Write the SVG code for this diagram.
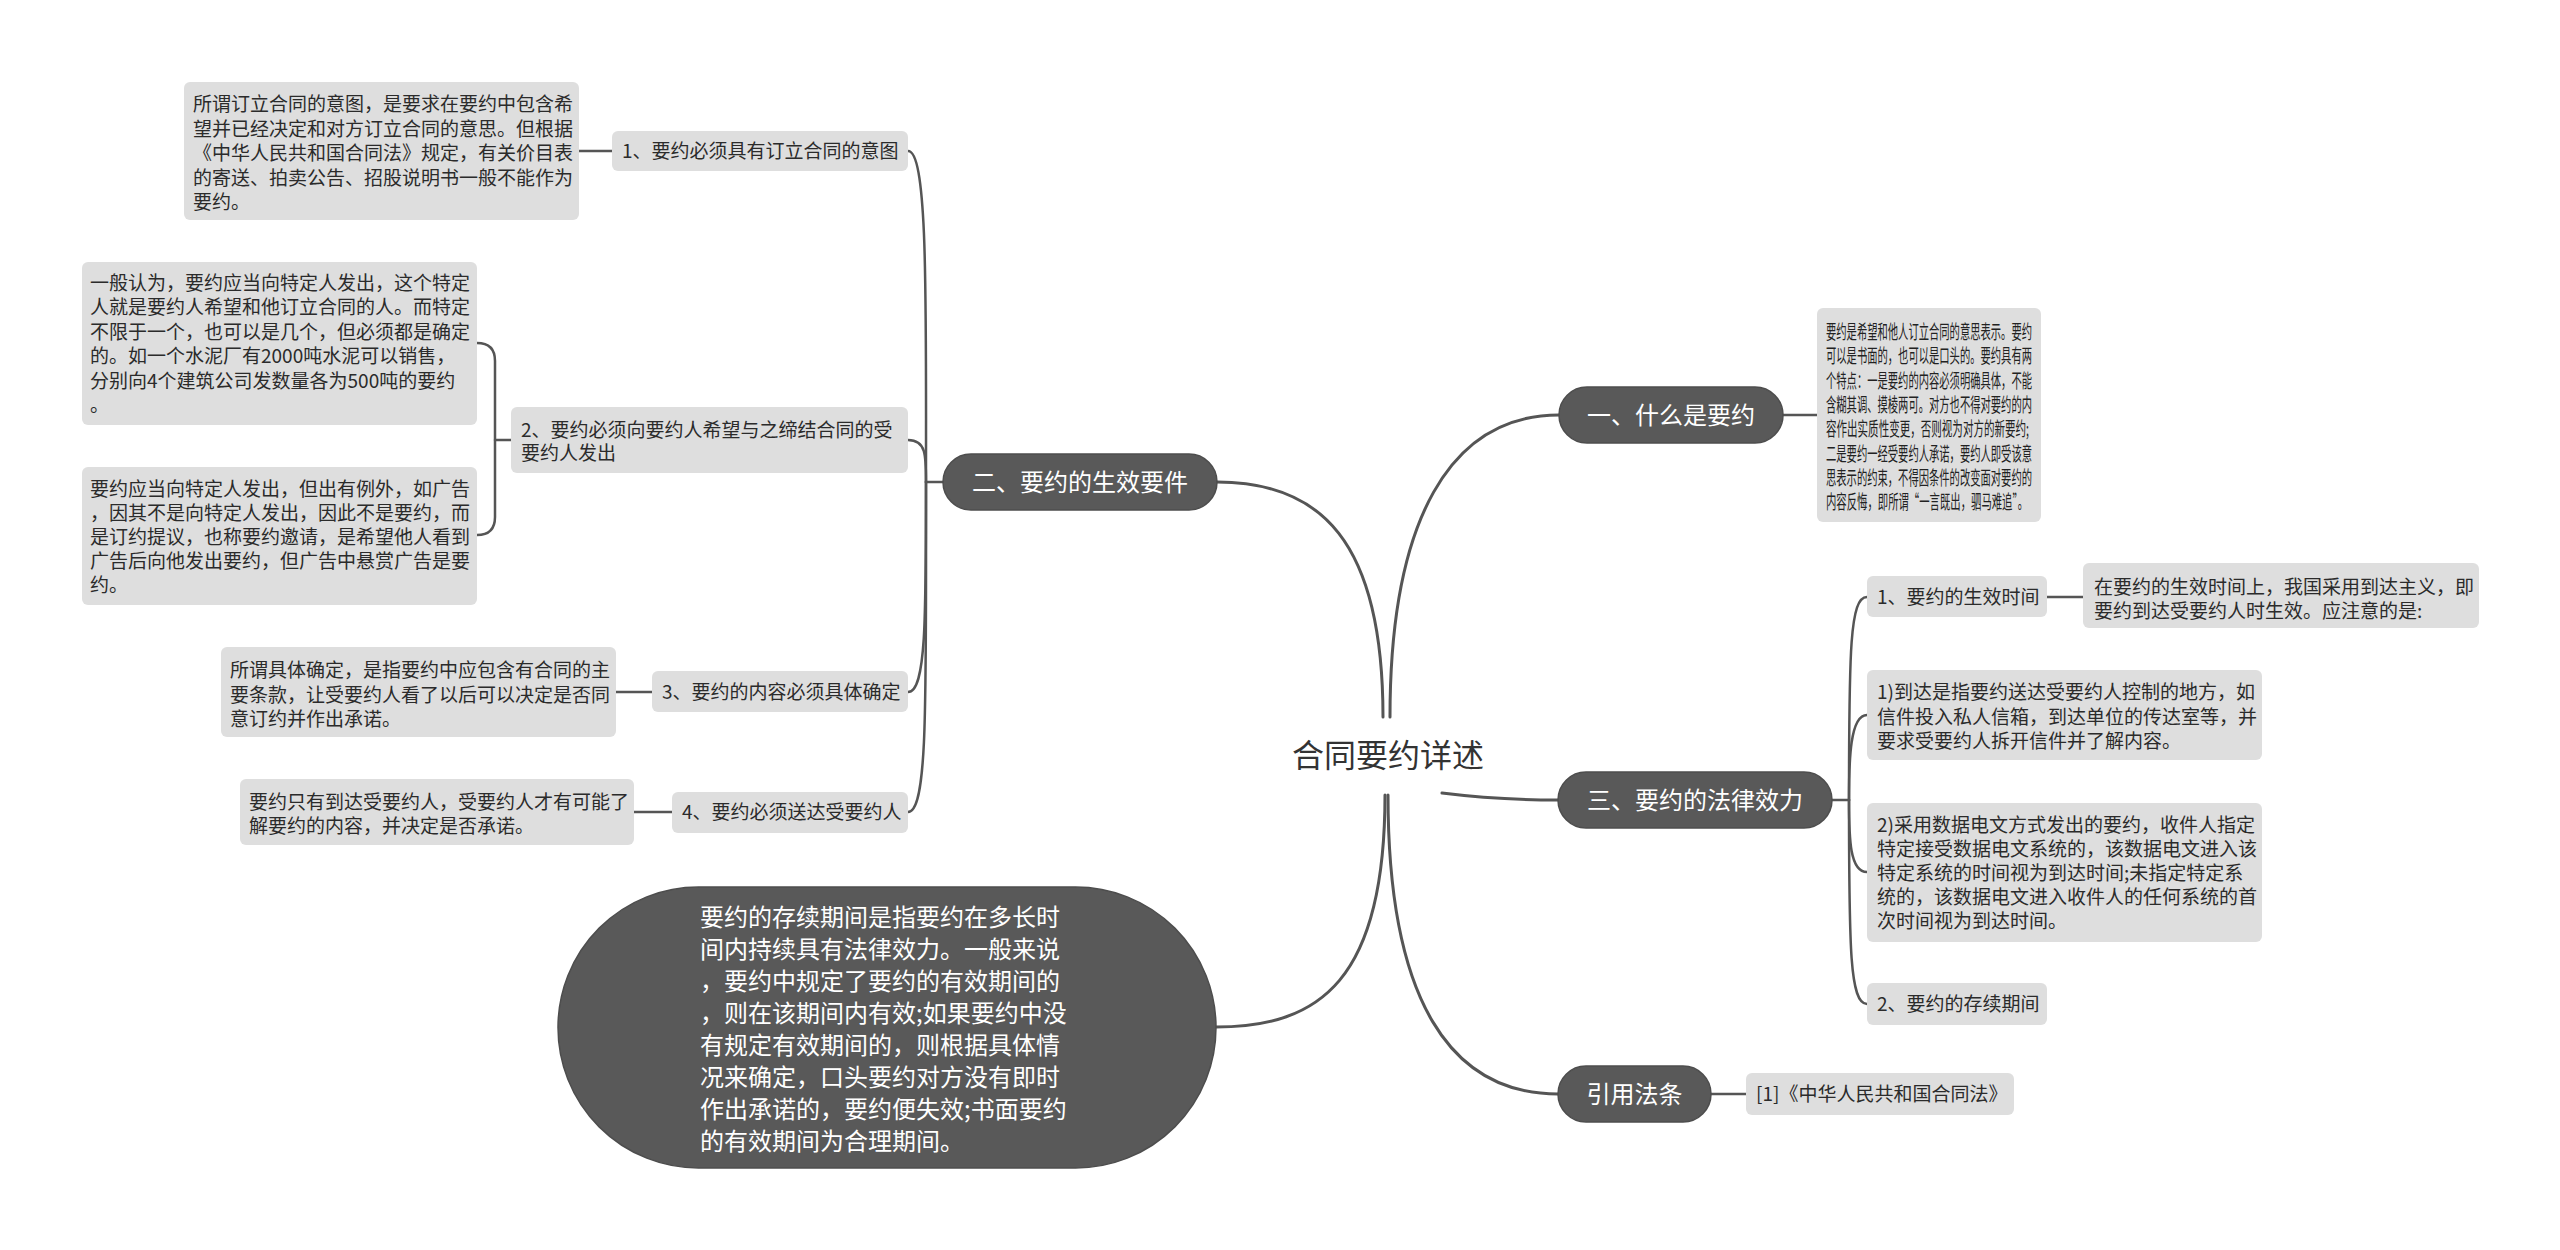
<svg xmlns="http://www.w3.org/2000/svg" width="2560" height="1250" viewBox="0 0 2560 1250">
<style>
.bg{fill:#ffffff}
.main rect{fill:#595959;stroke:#4d4d4d;stroke-width:1.5}
.main text{fill:#ffffff;font-size:24px;text-anchor:middle}
.sub rect{fill:#dedede}
.sub text{fill:#2b2b2b;font-size:19px}
.narrow text{fill:#222222}
.big text{fill:#ffffff;font-size:24px}
text{font-family:"Noto Sans CJK SC","Noto Sans",sans-serif}
.c1{fill:none;stroke:#555555;stroke-width:3;stroke-linecap:round}
.c2{fill:none;stroke:#555555;stroke-width:2.5;stroke-linecap:round}
</style>
<rect class="bg" x="0" y="0" width="2560" height="1250"/>
<g id="connectors">
<path class="c1" d="M1390,717 C1390,520 1450,415 1559,415"/>
<path class="c1" d="M1383,717 C1383,540 1320,482 1217,482"/>
<path class="c1" d="M1442,793 C1490,799 1520,800 1558,800"/>
<path class="c1" d="M1385,795 C1385,980 1320,1027 1216,1027"/>
<path class="c1" d="M1388,795 C1388,1000 1450,1094 1558,1094"/>
<path class="c2" d="M943,482 L926,482"/>
<path class="c2" d="M926,482 C926,300 928,151 908,151"/>
<path class="c2" d="M926,482 C926,455 926,440 908,440"/>
<path class="c2" d="M926,482 C926,620 926,692 908,692"/>
<path class="c2" d="M926,482 C926,700 928,812 908,812"/>
<path class="c2" d="M579,151 L612,151"/>
<path class="c2" d="M511,440 L495,440"/>
<path class="c2" d="M477,343 Q495,343 495,361 L495,517 Q495,535 477,535"/>
<path class="c2" d="M616,692 L652,692"/>
<path class="c2" d="M634,812 L672,812"/>
<path class="c2" d="M1783,415 L1817,415"/>
<path class="c2" d="M1832,800 L1849,800"/>
<path class="c2" d="M1849,800 C1849,650 1850,597 1867,597"/>
<path class="c2" d="M1849,800 C1849,760 1850,715 1867,715"/>
<path class="c2" d="M1849,800 C1849,840 1850,872 1867,872"/>
<path class="c2" d="M1849,800 C1849,950 1850,1004 1867,1004"/>
<path class="c2" d="M2047,597 L2083,597"/>
<path class="c2" d="M1711,1094 L1746,1094"/>
</g>
<g id="center">
<text x="1388" y="767" font-size="32" fill="#333333" text-anchor="middle">合同要约详述</text>
</g>
<g id="n-yi" class="main">
<rect x="1559" y="387" width="224" height="56" rx="28"/>
<text x="1671" y="424">一、什么是要约</text>
</g>
<g id="n-er" class="main">
<rect x="943" y="454" width="274" height="56" rx="28"/>
<text x="1080" y="491">二、要约的生效要件</text>
</g>
<g id="n-san" class="main">
<rect x="1558" y="772" width="274" height="56" rx="28"/>
<text x="1695" y="809">三、要约的法律效力</text>
</g>
<g id="n-yinyong" class="main">
<rect x="1558" y="1066" width="153" height="56" rx="28"/>
<text x="1634.5" y="1103">引用法条</text>
</g>
<g id="n-cunxu-big" class="big">
<rect x="558" y="887" width="658" height="281" rx="140.5" fill="#595959" stroke="#4d4d4d" stroke-width="1.5"/>
<text x="700" y="926">要约的存续期间是指要约在多长时</text>
<text x="700" y="958">间内持续具有法律效力。一般来说</text>
<text x="700" y="990">，要约中规定了要约的有效期间的</text>
<text x="700" y="1022">，则在该期间内有效;如果要约中没</text>
<text x="700" y="1054">有规定有效期间的，则根据具体情</text>
<text x="700" y="1086">况来确定，口头要约对方没有即时</text>
<text x="700" y="1118">作出承诺的，要约便失效;书面要约</text>
<text x="700" y="1150">的有效期间为合理期间。</text>
</g>
<g id="n-er-1" class="sub">
<rect x="612" y="131" width="296" height="40" rx="6"/>
<text x="622" y="158">1、要约必须具有订立合同的意图</text>
</g>
<g id="n-er-1-leaf" class="sub">
<rect x="184" y="82" width="395" height="138" rx="6"/>
<text x="193" y="111">所谓订立合同的意图，是要求在要约中包含希</text>
<text x="193" y="135.5">望并已经决定和对方订立合同的意思。但根据</text>
<text x="193" y="160">《中华人民共和国合同法》规定，有关价目表</text>
<text x="193" y="184.5">的寄送、拍卖公告、招股说明书一般不能作为</text>
<text x="193" y="209">要约。</text>
</g>
<g id="n-er-2" class="sub">
<rect x="511" y="407" width="397" height="66" rx="6"/>
<text x="521" y="437">2、要约必须向要约人希望与之缔结合同的受</text>
<text x="521" y="460">要约人发出</text>
</g>
<g id="n-er-2-leaf1" class="sub">
<rect x="82" y="262" width="395" height="163" rx="6"/>
<text x="90" y="290">一般认为，要约应当向特定人发出，这个特定</text>
<text x="90" y="314.4">人就是要约人希望和他订立合同的人。而特定</text>
<text x="90" y="338.8">不限于一个，也可以是几个，但必须都是确定</text>
<text x="90" y="363.2">的。如一个水泥厂有2000吨水泥可以销售，</text>
<text x="90" y="387.6">分别向4个建筑公司发数量各为500吨的要约</text>
<text x="90" y="412">。</text>
</g>
<g id="n-er-2-leaf2" class="sub">
<rect x="82" y="467" width="395" height="138" rx="6"/>
<text x="90" y="496">要约应当向特定人发出，但出有例外，如广告</text>
<text x="90" y="520">，因其不是向特定人发出，因此不是要约，而</text>
<text x="90" y="544">是订约提议，也称要约邀请，是希望他人看到</text>
<text x="90" y="568">广告后向他发出要约，但广告中悬赏广告是要</text>
<text x="90" y="592">约。</text>
</g>
<g id="n-er-3" class="sub">
<rect x="652" y="671" width="256" height="41" rx="6"/>
<text x="662" y="699">3、要约的内容必须具体确定</text>
</g>
<g id="n-er-3-leaf" class="sub">
<rect x="221" y="647" width="395" height="90" rx="6"/>
<text x="230" y="677">所谓具体确定，是指要约中应包含有合同的主</text>
<text x="230" y="701.5">要条款，让受要约人看了以后可以决定是否同</text>
<text x="230" y="726">意订约并作出承诺。</text>
</g>
<g id="n-er-4" class="sub">
<rect x="672" y="792" width="236" height="41" rx="6"/>
<text x="682" y="819">4、要约必须送达受要约人</text>
</g>
<g id="n-er-4-leaf" class="sub">
<rect x="240" y="779" width="394" height="66" rx="6"/>
<text x="249" y="809">要约只有到达受要约人，受要约人才有可能了</text>
<text x="249" y="833">解要约的内容，并决定是否承诺。</text>
</g>
<g id="n-yi-leaf" class="sub narrow">
<rect x="1817" y="308" width="224" height="214" rx="6"/>
<text x="1826" y="339" textLength="206" lengthAdjust="spacingAndGlyphs">要约是希望和他人订立合同的意思表示。要约</text>
<text x="1826" y="363.3" textLength="206" lengthAdjust="spacingAndGlyphs">可以是书面的，也可以是口头的。要约具有两</text>
<text x="1826" y="387.6" textLength="206" lengthAdjust="spacingAndGlyphs">个特点：一是要约的内容必须明确具体，不能</text>
<text x="1826" y="411.9" textLength="206" lengthAdjust="spacingAndGlyphs">含糊其调、摸棱两可。对方也不得对要约的内</text>
<text x="1826" y="436.2" textLength="203" lengthAdjust="spacingAndGlyphs">容作出实质性变更，否则视为对方的新要约;</text>
<text x="1826" y="460.5" textLength="206" lengthAdjust="spacingAndGlyphs">二是要约一经受要约人承诺，要约人即受该意</text>
<text x="1826" y="484.8" textLength="206" lengthAdjust="spacingAndGlyphs">思表示的约束，不得因条件的改变面对要约的</text>
<text x="1826" y="509" textLength="202" lengthAdjust="spacingAndGlyphs">内容反悔，即所谓“一言既出，驷马难追”。</text>
</g>
<g id="n-san-1" class="sub">
<rect x="1867" y="576" width="180" height="41" rx="6"/>
<text x="1877" y="604">1、要约的生效时间</text>
</g>
<g id="n-san-1-leaf" class="sub">
<rect x="2083" y="563" width="396" height="65" rx="6"/>
<text x="2094" y="594">在要约的生效时间上，我国采用到达主义，即</text>
<text x="2094" y="618">要约到达受要约人时生效。应注意的是:</text>
</g>
<g id="n-san-a" class="sub">
<rect x="1867" y="670" width="395" height="90" rx="6"/>
<text x="1877" y="699">1)到达是指要约送达受要约人控制的地方，如</text>
<text x="1877" y="723.5">信件投入私人信箱，到达单位的传达室等，并</text>
<text x="1877" y="748">要求受要约人拆开信件并了解内容。</text>
</g>
<g id="n-san-b" class="sub">
<rect x="1867" y="803" width="395" height="139" rx="6"/>
<text x="1877" y="832">2)采用数据电文方式发出的要约，收件人指定</text>
<text x="1877" y="856">特定接受数据电文系统的，该数据电文进入该</text>
<text x="1877" y="880">特定系统的时间视为到达时间;未指定特定系</text>
<text x="1877" y="904">统的，该数据电文进入收件人的任何系统的首</text>
<text x="1877" y="928">次时间视为到达时间。</text>
</g>
<g id="n-san-2" class="sub">
<rect x="1867" y="983" width="180" height="42" rx="6"/>
<text x="1877" y="1011">2、要约的存续期间</text>
</g>
<g id="n-yinyong-leaf" class="sub">
<rect x="1746" y="1073" width="268" height="42" rx="6"/>
<text x="1756" y="1101">[1]《中华人民共和国合同法》</text>
</g>
</svg>
